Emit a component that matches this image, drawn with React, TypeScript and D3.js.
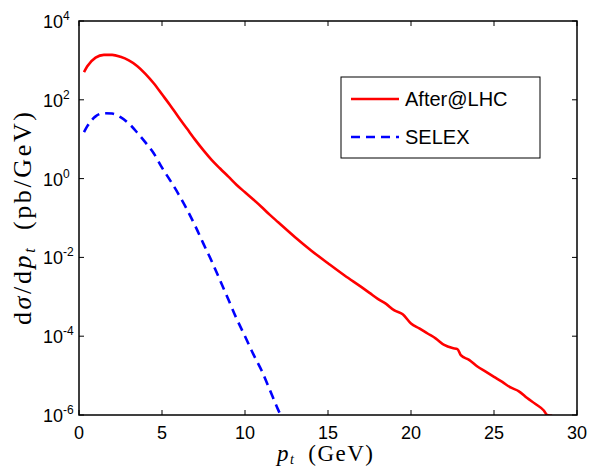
import React from 'react';
import * as d3 from 'd3';

// transverse momentum grid (GeV) and cross sections (pb/GeV)
const ptLHC = [0.3, 0.5, 1.0, 1.5, 2.0, 2.5, 3.0, 3.5, 4.0, 4.5, 5.0, 5.5, 6.0, 6.5, 7.0, 7.5, 8.0, 8.5, 9.0, 9.5,
  10, 10.5, 11, 11.5, 12, 13, 14, 15, 16, 17, 17.5, 18, 18.5, 19, 19.5, 20, 20.5, 21, 21.5, 22, 22.5, 22.8,
  23, 23.5, 24, 24.5, 25, 25.5, 26, 26.5, 27, 27.5, 28, 28.2, 28.5];
const sigmaLHC = [501, 708, 1175, 1380, 1380, 1230, 1000, 724, 457, 263, 138, 72, 36, 18.6, 9.6, 5.2, 2.95, 1.8,
  1.12, 0.69, 0.45, 0.295, 0.19, 0.12, 0.078, 0.033, 0.0148, 0.0071, 0.00347, 0.00178, 0.00126, 8.9e-4, 6.6e-4,
  4.5e-4, 3.6e-4, 2.1e-4, 1.58e-4, 1.17e-4, 8.7e-5, 6.0e-5, 5.0e-5, 4.7e-5, 3.3e-5, 2.5e-5, 1.7e-5, 1.26e-5,
  9.3e-6, 6.9e-6, 5.0e-6, 4.0e-6, 2.7e-6, 1.9e-6, 1.3e-6, 1.0e-6, 9.5e-7];

const ptSELEX = [0.3, 0.5, 1.0, 1.5, 2.0, 2.5, 3.0, 3.5, 4.0, 4.5, 5.0, 5.5, 6.0, 6.5, 7.0, 7.5, 8.0, 8.5, 9.0,
  9.5, 10, 10.5, 11, 11.5, 12, 12.2];
const sigmaSELEX = [15.1, 21.4, 38, 45.7, 44.7, 36.3, 25.1, 14.8, 8.3, 4.4, 1.9, 0.89, 0.40, 0.166, 0.063, 0.022,
  7.9e-3, 2.6e-3, 8.5e-4, 2.75e-4, 1.0e-4, 3.5e-5, 1.35e-5, 4.3e-6, 1.35e-6, 8.9e-7];

const xTicks = [0, 5, 10, 15, 20, 25, 30];
const yTickExps = [4, 2, 0, -2, -4, -6];
const legendLabels = ['After@LHC', 'SELEX'];

const W = 589;
const H = 468;
const margin = { top: 21, right: 12, bottom: 53, left: 79 };
const iw = W - margin.left - margin.right;
const ih = H - margin.top - margin.bottom;

export default function App() {
  const x = d3.scaleLinear().domain([0, 30]).range([0, iw]);
  const y = d3.scaleLog().domain([1e-6, 1e4]).range([ih, 0]);
  const line = d3.line<[number, number]>()
    .x((d) => x(d[0]))
    .y((d) => y(d[1]))
    .curve(d3.curveMonotoneX);

  const lhc = ptLHC.map((p, i) => [p, sigmaLHC[i]] as [number, number]);
  const selex = ptSELEX.map((p, i) => [p, sigmaSELEX[i]] as [number, number]);
  const tick = 5;
  const sans = '"Liberation Sans", Arial, sans-serif';
  const serif = '"Liberation Serif", "Times New Roman", serif';

  return (
    <div style={{ position: 'absolute', left: 0, top: 0 }}>
      <svg width={W} height={H} style={{ display: 'block', background: '#fff' }}>
        <defs>
          <clipPath id="plot">
            <rect x={0} y={0} width={iw} height={ih} />
          </clipPath>
        </defs>
        <g transform={`translate(${margin.left},${margin.top})`}>
          <g clipPath="url(#plot)">
            <path d={line(lhc) || ''} fill="none" stroke="#ff0000" strokeWidth={2.6} strokeLinejoin="round" />
            <path d={line(selex) || ''} fill="none" stroke="#0000ff" strokeWidth={2.6} strokeDasharray="9,6" />
          </g>

          {/* ticks on all four sides, matlab style */}
          {xTicks.map((t) => (
            <g key={'x' + t}>
              <line x1={x(t)} x2={x(t)} y1={ih} y2={ih - tick} stroke="#000" strokeWidth={1} />
              <line x1={x(t)} x2={x(t)} y1={0} y2={tick} stroke="#000" strokeWidth={1} />
              <text x={x(t)} y={ih + 24} textAnchor="middle" fontFamily={sans} fontSize={18} fill="#000">
                {t}
              </text>
            </g>
          ))}
          {yTickExps.map((e) => (
            <g key={'y' + e}>
              <line x1={0} x2={tick} y1={y(Math.pow(10, e))} y2={y(Math.pow(10, e))} stroke="#000" strokeWidth={1} />
              <line x1={iw} x2={iw - tick} y1={y(Math.pow(10, e))} y2={y(Math.pow(10, e))} stroke="#000" strokeWidth={1} />
              <text x={-36} y={y(Math.pow(10, e)) + 7} fontFamily={sans} fontSize={18} fill="#000">
                10
                <tspan fontSize={12} dy={-8}>{e}</tspan>
              </text>
            </g>
          ))}

          <rect x={0} y={0} width={iw} height={ih} fill="none" stroke="#000" strokeWidth={1.5} />

          {/* legend */}
          <g transform={`translate(${341 - margin.left},${77 - margin.top})`}>
            <rect x={0} y={0} width={199} height={81} fill="#fff" stroke="#000" strokeWidth={1} />
            <line x1={10} x2={58} y1={22} y2={22} stroke="#ff0000" strokeWidth={2.6} />
            <line x1={10} x2={58} y1={60} y2={60} stroke="#0000ff" strokeWidth={2.6} strokeDasharray="9,6" />
            <text x={64} y={29} fontFamily={sans} fontSize={20} fill="#000">{legendLabels[0]}</text>
            <text x={64} y={67} fontFamily={sans} fontSize={20} fill="#000">{legendLabels[1]}</text>
          </g>
        </g>

        {/* axis labels */}
        <text x={277} y={461} textLength={96} lengthAdjust="spacing" fontFamily={serif} fontSize={23} fill="#000">
          <tspan fontStyle="italic">p</tspan>
          <tspan fontStyle="italic" fontSize={14} dy={3}>t</tspan>
          <tspan dy={-3}>{'\u2002(GeV)'}</tspan>
        </text>
        <text transform="translate(31,325) rotate(-90)" textLength={213} lengthAdjust="spacing" fontFamily={serif} fontSize={26} fill="#000">
          <tspan>d</tspan>
          <tspan fontStyle="italic">σ</tspan>
          <tspan>/d</tspan>
          <tspan fontStyle="italic">p</tspan>
          <tspan fontStyle="italic" fontSize={16} dy={4}>t</tspan>
          <tspan dy={-4}>{'\u2002(pb/GeV)'}</tspan>
        </text>
      </svg>
    </div>
  );
}
